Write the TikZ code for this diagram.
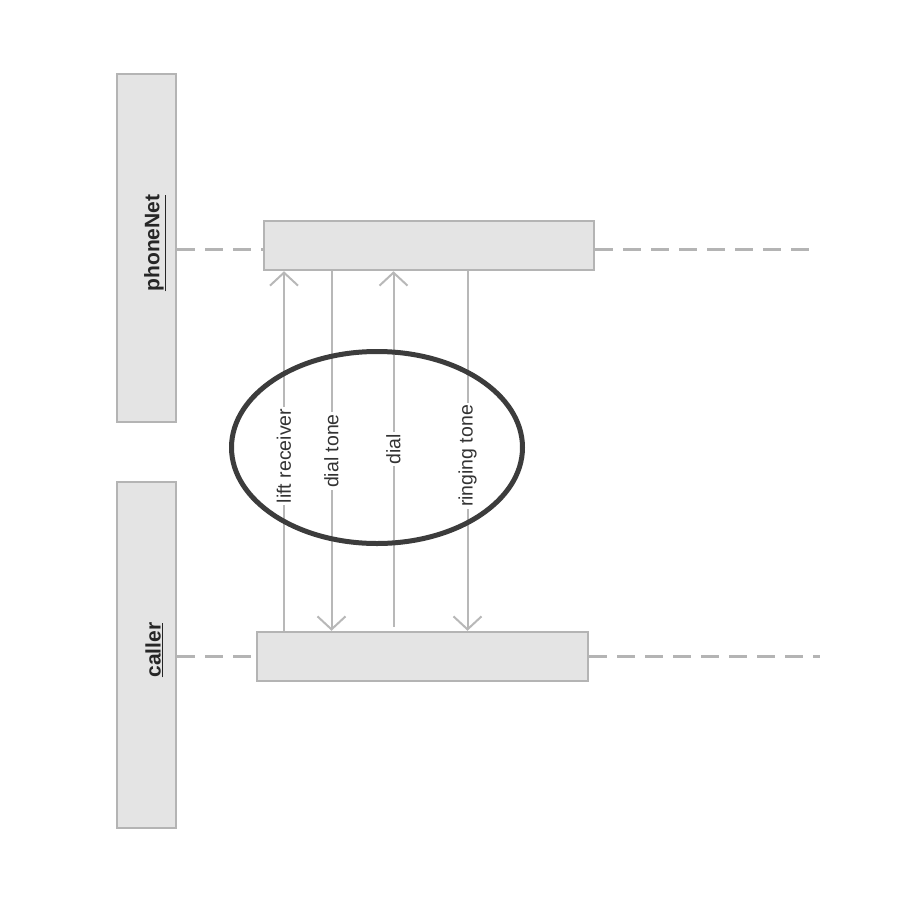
\documentclass[tikz,border=0pt]{standalone}
\usepackage{fontspec}
\setmainfont{Liberation Sans}
\usetikzlibrary{arrows.meta}
\definecolor{boxfill}{HTML}{E4E4E4}
\definecolor{boxline}{HTML}{B4B4B4}
\definecolor{msgline}{HTML}{B8B8B8}
\definecolor{hilite}{HTML}{3C3C3C}
\definecolor{labeltext}{HTML}{333333}
\begin{document}
\begin{tikzpicture}[x=1pt,y=-1pt,
  lifebox/.style={draw=boxline,fill=boxfill,line width=2.5pt,inner sep=0pt},
  activation/.style={draw=boxline,fill=boxfill,line width=2.5pt,inner sep=0pt},
  objname/.style={rotate=90,text=black!85,font=\fontsize{21}{24}\selectfont\bfseries,inner sep=0pt},
  lifeline/.style={draw=boxline,line width=3pt,dash pattern=on 18pt off 10pt},
  msg/.style={draw=msgline,line width=2pt},
  tip/.style={-{Straight Barb[length=13pt,width=28pt,line width=2pt]}},
  msglabel/.style={rotate=90,fill=white,text=labeltext,inner xsep=2pt,inner ysep=1pt,
    font=\fontsize{19.5}{22}\selectfont},
  highlight/.style={draw=hilite,line width=5pt}]
\path[use as bounding box] (0,0) rectangle (900,900);

% object boxes on the left
\node[lifebox,minimum width=59pt,minimum height=348pt] (pn) at (146.5,248) {};
\node[lifebox,minimum width=59pt,minimum height=346pt] (ca) at (146.5,655) {};
\node[objname] (pnlabel) at (155,243) {\underline{phoneNet}};
\node[objname] (calabel) at (154,650) {\underline{caller}};

% lifelines
\coordinate (pnend) at (815,249);
\coordinate (caend) at (820,656);
\node[activation,minimum width=330pt,minimum height=49pt] (act1) at (429,245.5) {};
\node[activation,minimum width=331pt,minimum height=49pt] (act2) at (422.5,656.5) {};
\draw[lifeline] (pn.east |- pnend) -- (act1.west |- pnend);
\draw[lifeline] (act1.east |- pnend) -- (pnend);
\draw[lifeline] (ca.east |- caend) -- (act2.west |- caend);
\draw[lifeline] (act2.east |- caend) -- (caend);

% message positions
\coordinate (m1) at (284,456);
\coordinate (m2) at (331.5,451);
\coordinate (m3) at (393.5,449);
\coordinate (m4) at (467.5,456);

% messages
\draw[msg,tip] (act2.north -| m1) -- (act1.south -| m1);
\draw[msg,tip] (act1.south -| m2) -- (act2.north -| m2);
\draw[msg,tip] ([yshift=4pt]act2.north -| m3) -- (act1.south -| m3);
\draw[msg,tip] (act1.south -| m4) -- (act2.north -| m4);

\node[msglabel] (l1) at (m1) {lift receiver};
\node[msglabel] (l2) at (m2) {dial tone};
\node[msglabel] (l3) at (m3) {dial};
\node[msglabel] (l4) at (m4) {ringing tone};

% grouping ellipse
\draw[highlight] (377,447.5) ellipse [x radius=145.5, y radius=96];
\end{tikzpicture}
\end{document}
